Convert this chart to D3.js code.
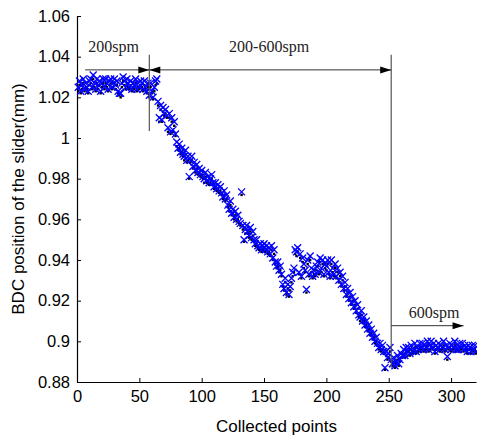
<!DOCTYPE html>
<html>
<head>
<meta charset="utf-8">
<script src="https://cdn.jsdelivr.net/npm/d3@7"></script>
<style>
  body { margin: 0; background: #fff; }
  .tick text { font-family: "Liberation Sans", Arial, sans-serif; font-size: 16.5px; fill: #000; }
  .note { font-family: "Liberation Serif", "Times New Roman", serif; font-size: 16px; fill: #222; }
  .label { font-family: "Liberation Sans", Arial, sans-serif; font-size: 17px; fill: #000; }
</style>
</head>
<body>
<div id="chart"></div>
<script>
// blue "x" series, points 1..320
const crossValues = [
  1.025, 1.028, 1.023, 1.026, 1.029, 1.024, 1.027, 1.025, 1.023, 1.028,
  1.029, 1.025, 1.031, 1.027, 1.024, 1.029, 1.026, 1.028, 1.023, 1.027,
  1.029, 1.025, 1.029, 1.027, 1.024, 1.028, 1.029, 1.025, 1.027, 1.029,
  1.026, 1.028, 1.023, 1.022, 1.022, 1.027, 1.030, 1.028, 1.025, 1.029,
  1.027, 1.025, 1.028, 1.024, 1.027, 1.026, 1.029, 1.024, 1.027, 1.025,
  1.028, 1.027, 1.024, 1.028, 1.025, 1.023, 1.027, 1.021, 1.027, 1.023,
  1.020, 1.025, 1.028, 1.029, 1.018, 1.010, 1.016, 1.009, 1.015, 1.012,
  1.014, 1.011, 1.005, 1.012, 1.003, 1.010, 1.004, 1.008, 1.002, 0.998,
  0.995, 0.997, 0.993, 0.995, 0.992, 0.991, 0.994, 0.989, 0.991, 0.981,
  0.989, 0.991, 0.986, 0.988, 0.984, 0.987, 0.983, 0.985, 0.982, 0.984,
  0.981, 0.980, 0.983, 0.979, 0.981, 0.978, 0.980, 0.982, 0.978, 0.976,
  0.978, 0.975, 0.977, 0.974, 0.976, 0.973, 0.971, 0.974, 0.970, 0.972,
  0.967, 0.965, 0.969, 0.963, 0.965, 0.961, 0.964, 0.960, 0.962, 0.959,
  0.958, 0.9735, 0.957, 0.950, 0.955, 0.957, 0.954, 0.952, 0.956, 0.951,
  0.954, 0.950, 0.948, 0.950, 0.947, 0.946, 0.948, 0.945, 0.947, 0.948,
  0.945, 0.947, 0.944, 0.946, 0.943, 0.947, 0.941, 0.945, 0.939, 0.937,
  0.939, 0.935, 0.937, 0.933, 0.928, 0.926, 0.931, 0.924, 0.928, 0.923,
  0.927, 0.931, 0.934, 0.936, 0.945, 0.944, 0.946, 0.934, 0.943, 0.932,
  0.941, 0.938, 0.935, 0.9255, 0.940, 0.933, 0.942, 0.936, 0.932, 0.935,
  0.933, 0.937, 0.939, 0.934, 0.941, 0.936, 0.940, 0.933, 0.938, 0.937,
  0.940, 0.934, 0.932, 0.940, 0.936, 0.933, 0.938, 0.932, 0.936, 0.930,
  0.934, 0.928, 0.932, 0.926, 0.929, 0.923, 0.926, 0.921, 0.924, 0.919,
  0.922, 0.917, 0.920, 0.915, 0.918, 0.913, 0.912, 0.915, 0.910, 0.912,
  0.908, 0.910, 0.906, 0.908, 0.904, 0.906, 0.902, 0.904, 0.900, 0.902,
  0.899, 0.897, 0.899, 0.896, 0.898, 0.895, 0.887, 0.895, 0.892, 0.894,
  0.897, 0.891, 0.889, 0.892, 0.888, 0.890, 0.893, 0.889, 0.891, 0.894,
  0.893, 0.896, 0.893, 0.897, 0.895, 0.897, 0.894, 0.898, 0.895, 0.896,
  0.899, 0.895, 0.897, 0.896, 0.899, 0.897, 0.899, 0.896, 0.898, 0.897,
  0.900, 0.896, 0.898, 0.900, 0.897, 0.899, 0.895, 0.898, 0.897, 0.899,
  0.896, 0.898, 0.897, 0.900, 0.896, 0.898, 0.8925, 0.897, 0.899, 0.896,
  0.898, 0.897, 0.900, 0.896, 0.898, 0.896, 0.899, 0.897, 0.899, 0.896,
  0.898, 0.897, 0.895, 0.898, 0.897, 0.895, 0.898, 0.896, 0.898, 0.895
];

// black dot series, points 1..320
const dotValues = [
  1.023, 1.026, 1.022, 1.024, 1.027, 1.023, 1.025, 1.024, 1.022, 1.026,
  1.027, 1.024, 1.029, 1.025, 1.023, 1.027, 1.024, 1.026, 1.022, 1.025,
  1.027, 1.024, 1.027, 1.025, 1.023, 1.026, 1.027, 1.024, 1.025, 1.027,
  1.024, 1.026, 1.022, 1.021, 1.020, 1.025, 1.028, 1.026, 1.024, 1.027,
  1.025, 1.024, 1.026, 1.023, 1.025, 1.024, 1.027, 1.023, 1.025, 1.024,
  1.026, 1.025, 1.023, 1.026, 1.024, 1.022, 1.025, 1.020, 1.025, 1.022,
  1.019, 1.023, 1.026, 1.027, 1.016, 1.008, 1.014, 1.008, 1.013, 1.011,
  1.012, 1.010, 1.003, 1.010, 1.002, 1.008, 1.003, 1.006, 1.001, 0.996,
  0.994, 0.995, 0.992, 0.993, 0.991, 0.989, 0.992, 0.988, 0.989, 0.980,
  0.988, 0.989, 0.985, 0.986, 0.983, 0.985, 0.982, 0.983, 0.981, 0.982,
  0.980, 0.978, 0.981, 0.978, 0.979, 0.977, 0.978, 0.980, 0.977, 0.975,
  0.976, 0.974, 0.975, 0.973, 0.974, 0.972, 0.970, 0.972, 0.969, 0.970,
  0.966, 0.964, 0.967, 0.962, 0.963, 0.960, 0.962, 0.959, 0.960, 0.958,
  0.957, 0.9720, 0.955, 0.949, 0.953, 0.955, 0.953, 0.951, 0.954, 0.950,
  0.952, 0.949, 0.947, 0.948, 0.946, 0.945, 0.946, 0.944, 0.945, 0.946,
  0.944, 0.945, 0.943, 0.944, 0.942, 0.945, 0.940, 0.943, 0.938, 0.936,
  0.937, 0.934, 0.935, 0.932, 0.927, 0.925, 0.929, 0.923, 0.926, 0.922,
  0.925, 0.929, 0.932, 0.934, 0.943, 0.942, 0.944, 0.933, 0.941, 0.931,
  0.939, 0.936, 0.934, 0.9240, 0.938, 0.932, 0.940, 0.934, 0.931, 0.933,
  0.932, 0.935, 0.937, 0.933, 0.939, 0.934, 0.938, 0.932, 0.936, 0.935,
  0.938, 0.933, 0.931, 0.938, 0.934, 0.932, 0.936, 0.931, 0.934, 0.929,
  0.932, 0.927, 0.930, 0.925, 0.927, 0.922, 0.924, 0.920, 0.922, 0.918,
  0.920, 0.916, 0.918, 0.914, 0.916, 0.912, 0.910, 0.913, 0.909, 0.910,
  0.907, 0.908, 0.905, 0.906, 0.903, 0.904, 0.901, 0.902, 0.899, 0.900,
  0.898, 0.896, 0.897, 0.895, 0.896, 0.894, 0.886, 0.893, 0.891, 0.892,
  0.895, 0.890, 0.888, 0.890, 0.887, 0.889, 0.891, 0.888, 0.890, 0.892,
  0.892, 0.894, 0.892, 0.895, 0.893, 0.895, 0.893, 0.896, 0.894, 0.895,
  0.897, 0.894, 0.895, 0.895, 0.897, 0.896, 0.897, 0.895, 0.896, 0.896,
  0.898, 0.895, 0.896, 0.898, 0.896, 0.897, 0.894, 0.896, 0.896, 0.897,
  0.895, 0.896, 0.896, 0.898, 0.895, 0.896, 0.8910, 0.896, 0.897, 0.895,
  0.896, 0.896, 0.898, 0.895, 0.896, 0.895, 0.897, 0.896, 0.897, 0.895,
  0.896, 0.896, 0.894, 0.896, 0.896, 0.894, 0.896, 0.895, 0.896, 0.894
];

const xTicks = [0, 50, 100, 150, 200, 250, 300];
const yTicks = [0.88, 0.9, 0.92, 0.94, 0.96, 0.98, 1, 1.02, 1.04, 1.06];

// speed change markers: [x, yTop, yBottom]
const dividers = [[58, 1.041, 1.0035], [252, 1.041, 0.887]];
// arrows: [x1, x2, y, head at start, head at end]
const arrows = [[6.5, 58, 1.0335, false, true], [58, 252, 1.0335, true, true], [252, 310, 0.9077, false, true]];
const notes = [["200spm", 9, 1.0423], ["200-600spm", 122, 1.0423], ["600spm", 266, 0.9115]];

const margin = { top: 16, right: 1, bottom: 58, left: 77 };
const width = 477 - margin.left - margin.right;
const height = 440 - margin.top - margin.bottom;

const svg = d3.select("#chart").append("svg")
    .attr("width", 477)
    .attr("height", 440)
    .append("g")
    .attr("transform", `translate(${margin.left},${margin.top})`);

const x = d3.scaleLinear().domain([0, 320]).range([0, width]);
const y = d3.scaleLinear().domain([0.88, 1.06]).range([height, 0]);

const xAxis = d3.axisBottom(x).tickValues(xTicks).tickSizeInner(-4).tickSizeOuter(0).tickPadding(8)
    .tickFormat(d3.format("d"));
const yAxis = d3.axisLeft(y).tickValues(yTicks).tickSizeInner(-4).tickSizeOuter(0).tickPadding(7)
    .tickFormat(d => String(+d.toFixed(2)));

svg.append("g").attr("transform", `translate(0,${height})`).call(xAxis);
svg.append("g").call(yAxis);
svg.selectAll(".domain").attr("stroke", "#000").attr("stroke-width", 1.2);

// black dots
svg.append("g").selectAll("rect")
    .data(dotValues)
    .join("rect")
    .attr("x", (d, i) => x(i + 1) - 1.2)
    .attr("y", d => y(d) - 1.2)
    .attr("width", 2.4)
    .attr("height", 2.4)
    .attr("fill", "#000");

// blue crosses
const s = 3.5;
svg.append("g").selectAll("path")
    .data(crossValues)
    .join("path")
    .attr("d", (d, i) => {
        const cx = x(i + 1), cy = y(d);
        return `M${cx - s},${cy - s}L${cx + s},${cy + s}M${cx - s},${cy + s}L${cx + s},${cy - s}`;
    })
    .attr("stroke", "#0000ff")
    .attr("stroke-width", 1.3)
    .attr("fill", "none");

// annotations
svg.append("g").selectAll("line")
    .data(dividers)
    .join("line")
    .attr("x1", d => x(d[0])).attr("x2", d => x(d[0]))
    .attr("y1", d => y(d[1])).attr("y2", d => y(d[2]))
    .attr("stroke", "#555")
    .attr("stroke-width", 1.2);

const ag = svg.append("g");
arrows.forEach(a => {
    const x1 = x(a[0]), x2 = x(a[1]), yy = y(a[2]);
    ag.append("line")
        .attr("x1", x1).attr("x2", x2).attr("y1", yy).attr("y2", yy)
        .attr("stroke", "#333").attr("stroke-width", 1);
    if (a[3]) ag.append("path").attr("d", `M${x1},${yy}L${x1 + 11},${yy - 3.5}L${x1 + 11},${yy + 3.5}Z`).attr("fill", "#000");
    if (a[4]) ag.append("path").attr("d", `M${x2},${yy}L${x2 - 11},${yy - 3.5}L${x2 - 11},${yy + 3.5}Z`).attr("fill", "#000");
});

svg.append("g").selectAll("text")
    .data(notes)
    .join("text")
    .attr("class", "note")
    .attr("x", d => x(d[1]))
    .attr("y", d => y(d[2]))
    .text(d => d[0]);

svg.append("text")
    .attr("class", "label")
    .attr("x", width / 2)
    .attr("y", height + 50)
    .attr("text-anchor", "middle")
    .text("Collected points");

svg.append("text")
    .attr("class", "label")
    .attr("x", -height / 2)
    .attr("y", -margin.left + 24)
    .attr("text-anchor", "middle")
    .attr("transform", "rotate(-90)")
    .text("BDC position of the slider(mm)");
</script>
</body>
</html>
